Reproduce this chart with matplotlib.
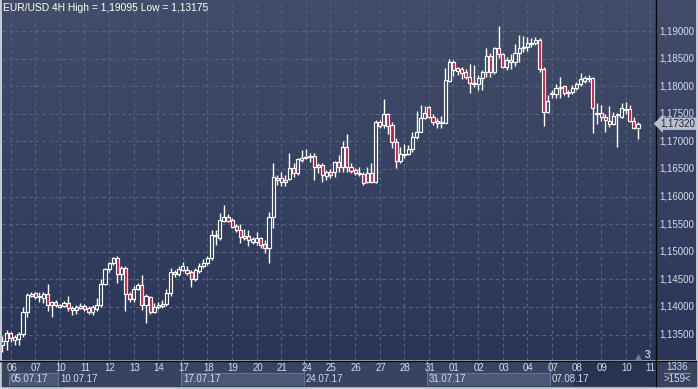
import matplotlib
matplotlib.use("Agg")
import matplotlib.pyplot as plt
import numpy as np
from matplotlib.colors import LinearSegmentedColormap
from matplotlib.patches import Rectangle

plt.rcParams["font.family"] = ["Liberation Sans", "DejaVu Sans"]

# EUR/USD 4H candles, 05.07.17 20:00 .. 10.08.17
opens = [
    1.1331, 1.1338, 1.1353, 1.1340, 1.1342, 1.1351,
    1.1391, 1.1420, 1.1425, 1.1418, 1.1416, 1.1423,
    1.1404, 1.1409, 1.1400, 1.1402, 1.1407, 1.1394,
    1.1394, 1.1398, 1.1402, 1.1398, 1.1391, 1.1396,
    1.1404, 1.1442, 1.1469, 1.1480, 1.1489, 1.1460,
    1.1471, 1.1423, 1.1414, 1.1433, 1.1440, 1.1404,
    1.1418, 1.1391, 1.1400, 1.1402, 1.1405, 1.1425,
    1.1463, 1.1460, 1.1467, 1.1467, 1.1463, 1.1451,
    1.1465, 1.1474, 1.1480, 1.1489, 1.1528, 1.1525,
    1.1556, 1.1563, 1.1558, 1.1547, 1.1539, 1.1525,
    1.1528, 1.1518, 1.1518, 1.1525, 1.1514, 1.1507,
    1.1563, 1.1630, 1.1634, 1.1626, 1.1632, 1.1652,
    1.1643, 1.1666, 1.1670, 1.1672, 1.1673, 1.1654,
    1.1657, 1.1637, 1.1645, 1.1645, 1.1663, 1.1654,
    1.1690, 1.1654, 1.1648, 1.1641, 1.1641, 1.1626,
    1.1643, 1.1626, 1.1735, 1.1730, 1.1750, 1.1730,
    1.1699, 1.1664, 1.1675, 1.1677, 1.1686, 1.1708,
    1.1717, 1.1742, 1.1762, 1.1744, 1.1737, 1.1733,
    1.1733, 1.1809, 1.1844, 1.1828, 1.1831, 1.1826,
    1.1817, 1.1804, 1.1804, 1.1815, 1.1826, 1.1855,
    1.1826, 1.1869, 1.1858, 1.1835, 1.1847, 1.1844,
    1.1860, 1.1869, 1.1871, 1.1876, 1.1878, 1.1884,
    1.1831, 1.1753, 1.1786, 1.1786, 1.1797, 1.1800,
    1.1788, 1.1789, 1.1797, 1.1804, 1.1809, 1.1813,
    1.1815, 1.1750, 1.1751, 1.1744, 1.1737, 1.1731,
    1.1748, 1.1744, 1.1757, 1.1759, 1.1737, 1.1724,
]
highs = [
    1.1347, 1.1358, 1.1355, 1.1349, 1.1355, 1.1400,
    1.1425, 1.1427, 1.1427, 1.1427, 1.1427, 1.1442,
    1.1411, 1.1413, 1.1405, 1.1411, 1.1420, 1.1402,
    1.1404, 1.1407, 1.1405, 1.1402, 1.1404, 1.1416,
    1.1451, 1.1471, 1.1481, 1.1490, 1.1492, 1.1474,
    1.1474, 1.1427, 1.1438, 1.1443, 1.1458, 1.1423,
    1.1420, 1.1407, 1.1409, 1.1413, 1.1433, 1.1471,
    1.1467, 1.1474, 1.1481, 1.1474, 1.1467, 1.1471,
    1.1480, 1.1487, 1.1492, 1.1539, 1.1539, 1.1570,
    1.1585, 1.1568, 1.1561, 1.1550, 1.1550, 1.1541,
    1.1539, 1.1527, 1.1536, 1.1527, 1.1521, 1.1572,
    1.1661, 1.1639, 1.1645, 1.1639, 1.1679, 1.1661,
    1.1670, 1.1684, 1.1686, 1.1679, 1.1679, 1.1661,
    1.1661, 1.1648, 1.1650, 1.1664, 1.1675, 1.1701,
    1.1713, 1.1661, 1.1652, 1.1654, 1.1645, 1.1654,
    1.1661, 1.1739, 1.1739, 1.1777, 1.1751, 1.1735,
    1.1706, 1.1690, 1.1695, 1.1693, 1.1717, 1.1755,
    1.1766, 1.1764, 1.1764, 1.1750, 1.1742, 1.1746,
    1.1833, 1.1849, 1.1847, 1.1835, 1.1835, 1.1831,
    1.1840, 1.1838, 1.1820, 1.1829, 1.1869, 1.1860,
    1.1871, 1.19095, 1.1860, 1.1853, 1.1858, 1.1876,
    1.1893, 1.1891, 1.1889, 1.1887, 1.1889, 1.1887,
    1.1835, 1.1784, 1.1793, 1.1804, 1.1817, 1.1802,
    1.1793, 1.1802, 1.1808, 1.1824, 1.1818, 1.1820,
    1.1817, 1.1770, 1.1766, 1.1750, 1.1764, 1.1753,
    1.1751, 1.1770, 1.1771, 1.1766, 1.1744, 1.1735,
]
lows = [
    1.13175, 1.1322, 1.1337, 1.1331, 1.1331, 1.1346,
    1.1382, 1.1418, 1.1414, 1.1409, 1.1407, 1.1393,
    1.1382, 1.1400, 1.1398, 1.1400, 1.1393, 1.1385,
    1.1387, 1.1396, 1.1393, 1.1387, 1.1385, 1.1393,
    1.1400, 1.1440, 1.1463, 1.1476, 1.1443, 1.1449,
    1.1393, 1.1409, 1.1409, 1.1431, 1.1394, 1.1371,
    1.1387, 1.1389, 1.1396, 1.1398, 1.1402, 1.1420,
    1.1454, 1.1456, 1.1465, 1.1458, 1.1436, 1.1447,
    1.1462, 1.1471, 1.1476, 1.1485, 1.1512, 1.1521,
    1.1554, 1.1554, 1.1543, 1.1536, 1.1516, 1.1521,
    1.1510, 1.1514, 1.1512, 1.1507, 1.1498, 1.1480,
    1.1543, 1.1621, 1.1619, 1.1619, 1.1630, 1.1635,
    1.1639, 1.1663, 1.1669, 1.1663, 1.1630, 1.1643,
    1.1626, 1.1630, 1.1634, 1.1635, 1.1645, 1.1645,
    1.1645, 1.1643, 1.1639, 1.1637, 1.1621, 1.1625,
    1.1625, 1.1625, 1.1724, 1.1724, 1.1713, 1.1688,
    1.1652, 1.1661, 1.1670, 1.1675, 1.1681, 1.1704,
    1.1717, 1.1741, 1.1742, 1.1730, 1.1724, 1.1724,
    1.1733, 1.1808, 1.1818, 1.1820, 1.1813, 1.1813,
    1.1788, 1.1799, 1.1793, 1.1793, 1.1817, 1.1817,
    1.1822, 1.1851, 1.1833, 1.1829, 1.1831, 1.1837,
    1.1844, 1.1862, 1.1864, 1.1871, 1.1875, 1.1826,
    1.1728, 1.1751, 1.1779, 1.1779, 1.1779, 1.1784,
    1.1780, 1.1786, 1.1793, 1.1800, 1.1806, 1.1808,
    1.1715, 1.1731, 1.1737, 1.1717, 1.1726, 1.1730,
    1.1690, 1.1742, 1.1750, 1.1735, 1.1722, 1.1704,
]
closes = [
    1.1338, 1.1353, 1.1344, 1.1346, 1.1351, 1.1391,
    1.1422, 1.1423, 1.1418, 1.1420, 1.1423, 1.1404,
    1.1409, 1.1404, 1.1404, 1.1407, 1.1398, 1.1398,
    1.1400, 1.1402, 1.1396, 1.1391, 1.1400, 1.1404,
    1.1442, 1.1469, 1.1480, 1.1489, 1.1460, 1.1471,
    1.1423, 1.1414, 1.1433, 1.1440, 1.1404, 1.1420,
    1.1391, 1.1400, 1.1404, 1.1405, 1.1425, 1.1463,
    1.1460, 1.1469, 1.1474, 1.1462, 1.1451, 1.1467,
    1.1474, 1.1480, 1.1489, 1.1530, 1.1530, 1.1558,
    1.1563, 1.1556, 1.1545, 1.1539, 1.1527, 1.1528,
    1.1521, 1.1523, 1.1525, 1.1512, 1.1507, 1.1563,
    1.1635, 1.1634, 1.1626, 1.1630, 1.1652, 1.1643,
    1.1668, 1.1670, 1.1672, 1.1673, 1.1654, 1.1657,
    1.1639, 1.1645, 1.1639, 1.1663, 1.1654, 1.1690,
    1.1654, 1.1646, 1.1643, 1.1643, 1.1625, 1.1643,
    1.1626, 1.1735, 1.1728, 1.1750, 1.1728, 1.1699,
    1.1664, 1.1677, 1.1677, 1.1686, 1.1708, 1.1717,
    1.1742, 1.1751, 1.1744, 1.1735, 1.1733, 1.1735,
    1.1811, 1.1844, 1.1829, 1.1833, 1.1824, 1.1817,
    1.1806, 1.1806, 1.1815, 1.1826, 1.1855, 1.1826,
    1.1869, 1.1858, 1.1835, 1.1847, 1.1844, 1.1860,
    1.1869, 1.1871, 1.1878, 1.1878, 1.1884, 1.1831,
    1.1753, 1.1773, 1.1788, 1.1797, 1.1799, 1.1788,
    1.1789, 1.1797, 1.1804, 1.1813, 1.1815, 1.1815,
    1.1760, 1.1751, 1.1744, 1.1739, 1.1731, 1.1746,
    1.1750, 1.1760, 1.1759, 1.1737, 1.1724, 1.1732,
]

day_labels = ["06", "07", "10", "11", "12", "13", "14", "17", "18", "19", "20", "21", "24",
              "25", "26", "27", "28", "31", "01", "02", "03", "04", "07", "08", "09", "10", "11"]
week_labels = ["05.07.17", "10.07.17", "17.07.17", "24.07.17", "31.07.17", "07.08.17"]
week_first_day = [0, 2, 7, 12, 17, 22]  # position in day_labels
price_ticks = [1.135, 1.14, 1.145, 1.15, 1.155, 1.16, 1.165, 1.17, 1.175, 1.18, 1.185, 1.19]
bars_per_day = 6

W, H = 698, 389
fig = plt.figure(figsize=(W / 100, H / 100), dpi=100, facecolor="#c5cad4")
FS = 7.0


def px_rect(x0, y0, x1, y1):
    return [x0 / W, 1 - y1 / H, (x1 - x0) / W, (y1 - y0) / H]


def fmt(p):
    return f"{p:.5f}".replace(".", ",")


# background, panels and frame lines
bg = fig.add_axes([0, 0, 1, 1])
bg.axis("off")
cmap = LinearSegmentedColormap.from_list("bg", ["#424d69", "#2a3658"])
bg.imshow(np.linspace(0, 1, 256).reshape(-1, 1), cmap=cmap, extent=[2, 696, 360, 0], aspect="auto")
bg.add_patch(Rectangle((2, 361), 694, 25, color="#38445f"))
bg.set_xlim(0, W)
bg.set_ylim(H, 0)
bg.plot([655.5, 655.5], [0, 386], color="#05080f", lw=1)
bg.plot([0, 696], [360.5, 360.5], color="#05080f", lw=1)

# corner box
bg.text(677, 366.5, "1336", color="#d3dbea", fontsize=FS, ha="center", va="center")
bg.plot([664, 690], [372.5, 372.5], color="#8591a8", lw=0.8)
bg.text(677, 378.5, ">159<", color="#d3dbea", fontsize=FS, ha="center", va="center")

# main chart
ax = fig.add_axes(px_rect(2, 0, 655, 360))
ax.set_facecolor("none")
for s in ax.spines.values():
    s.set_visible(False)

o = np.array(opens)
h = np.array(highs)
l = np.array(lows)
c = np.array(closes)
x = np.arange(len(o))
up = c >= o
lo = np.minimum(o, c)
hi = np.maximum(o, c)

ax.vlines(x, hi, h, color="white", lw=1.0, zorder=3)
ax.vlines(x, l, lo, color="white", lw=1.0, zorder=3)
ax.bar(x[up], (hi - lo)[up], bottom=lo[up], width=0.74, facecolor="none",
       edgecolor="white", lw=0.85, zorder=4)
ax.bar(x[~up], (hi - lo)[~up], bottom=lo[~up], width=0.74, facecolor="#e0103a",
       edgecolor="white", lw=0.85, zorder=4)

ax.set_xlim(-0.12, 159.15)
ax.set_ylim(1.13039, 1.19562)

day_start = 1 + bars_per_day * np.arange(len(day_labels))
ax.set_yticks(price_ticks)
ax.set_xticks(day_start + 1)
ax.tick_params(length=0, labelbottom=False, labelleft=False)
ax.grid(color="#58657f", linestyle=(0, (3, 3)), lw=0.8)
ax.set_axisbelow(True)

ytr = ax.get_yaxis_transform()
for p in price_ticks:
    ax.text(1.006, p, fmt(p), transform=ytr, color="#d3dbea",
            fontsize=FS, ha="left", va="center", clip_on=False)

ax.text(1.008, closes[-1], fmt(closes[-1]), transform=ytr, color="#1d2640", fontsize=FS,
        ha="left", va="center", clip_on=False,
        bbox=dict(boxstyle="larrow,pad=0.12", fc="#b9bfca", ec="none"))

title = f"EUR/USD 4H High = {fmt(max(highs))} Low = {fmt(min(lows))}"
ax.text(0.0015, 0.978, title, transform=ax.transAxes, color="white", fontsize=7.4,
        ha="left", va="center")

ax.plot([0.9735], [0.009], marker="^", ms=3.5, color="#6e7a92", transform=ax.transAxes,
        clip_on=False)
ax.text(0.9847, 0.014, "3", transform=ax.transAxes, color="white", fontsize=FS,
        ha="left", va="center")

# time axis
axb = fig.add_axes(px_rect(2, 361, 655, 386))
axb.axis("off")
axb.set_xlim(ax.get_xlim())
axb.set_ylim(25, 0)

week_start = [day_start[d] for d in week_first_day] + [len(o) + 3]
for w, lab in enumerate(week_labels):
    x0 = week_start[w] + 0.5
    x1 = week_start[w + 1] + 0.5
    if w % 2 == 0:
        axb.add_patch(Rectangle((x0, 12), x1 - x0, 13, facecolor="#4a5776",
                                edgecolor="#66738e", lw=0.8))
    if w > 0:
        axb.plot([x0, x0], [0, 12], color="#66738e", lw=0.8)
    axb.text(week_start[w] + 1.0, 18.5, lab, color="#d3dbea", fontsize=FS,
             ha="left", va="center", clip_on=True)

for d, lab in zip(day_start, day_labels):
    axb.text(d - 0.1, 7, lab, color="#d3dbea", fontsize=FS, ha="left", va="center",
             clip_on=True)

axb.add_patch(Rectangle((139.1, 0), 25, 25, facecolor="#1c2542", alpha=0.55, lw=0))

fig.savefig("out.png", dpi=100, facecolor=fig.get_facecolor())
